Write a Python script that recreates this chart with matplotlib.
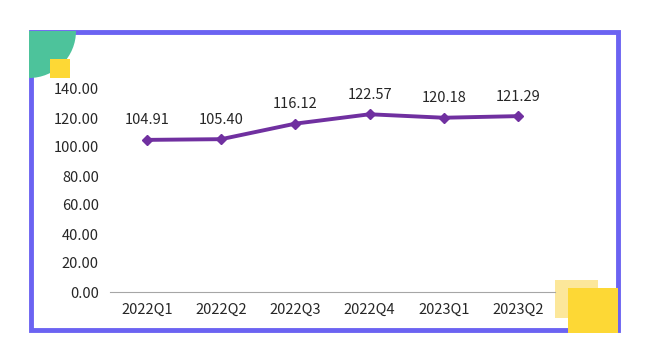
import matplotlib.pyplot as plt
from matplotlib.patches import Rectangle, Wedge

# Data
quarters = ['2022Q1', '2022Q2', '2022Q3', '2022Q4', '2023Q1', '2023Q2']
values = [104.91, 105.40, 116.12, 122.57, 120.18, 121.29]
yticks = [0, 20, 40, 60, 80, 100, 120, 140]

plt.rcParams['font.family'] = ['Noto Sans CJK SC', 'DejaVu Sans']

W, H = 648, 360
fig = plt.figure(figsize=(W / 100, H / 100), dpi=100)

# decoration layer in pixel coords (y goes down)
deco = fig.add_axes([0, 0, 1, 1])
deco.set_xlim(0, W)
deco.set_ylim(H, 0)
deco.axis('off')
deco.add_patch(Rectangle((31, 32), 587, 298, fill=False, edgecolor='#6B63F2', linewidth=3.5, zorder=1))
deco.add_patch(Wedge((29, 31), 47, 0, 90, facecolor='#4DC39B', edgecolor='none', zorder=2))
deco.add_patch(Rectangle((50, 59), 20, 19, facecolor='#FDD835', edgecolor='none', zorder=3))
deco.add_patch(Rectangle((555, 280), 43, 38, facecolor='#FCE79A', edgecolor='none', zorder=3))
deco.add_patch(Rectangle((568, 288), 50, 45, facecolor='#FDD835', edgecolor='none', zorder=4))

# chart
ax = fig.add_axes([110 / W, (H - 292) / H, 445 / W, (292 - 89) / H])
ax.patch.set_alpha(0)
x = range(len(quarters))
ax.plot(x, values, color='#7030A0', linewidth=2.8, marker='D', markersize=5)
for i, v in zip(x, values):
    ax.annotate(f'{v:.2f}', (i, v), xytext=(0, 9), textcoords='offset points',
                ha='center', va='bottom', fontsize=10.5, color='#262626', annotation_clip=False)

ax.set_xlim(-0.5, len(quarters) - 0.5)
ax.set_ylim(0, 140)
ax.set_xticks(list(x))
ax.set_xticklabels(quarters)
ax.set_yticks(yticks)
ax.set_yticklabels([f'{t:.2f}' for t in yticks])
ax.tick_params(length=0, labelsize=10.5, labelcolor='#262626')
ax.tick_params(axis='x', pad=8)
ax.tick_params(axis='y', pad=8)
for s in ['top', 'right', 'left']:
    ax.spines[s].set_visible(False)
ax.spines['bottom'].set_color('#A6A6A6')

fig.savefig('out.png', dpi=100)
